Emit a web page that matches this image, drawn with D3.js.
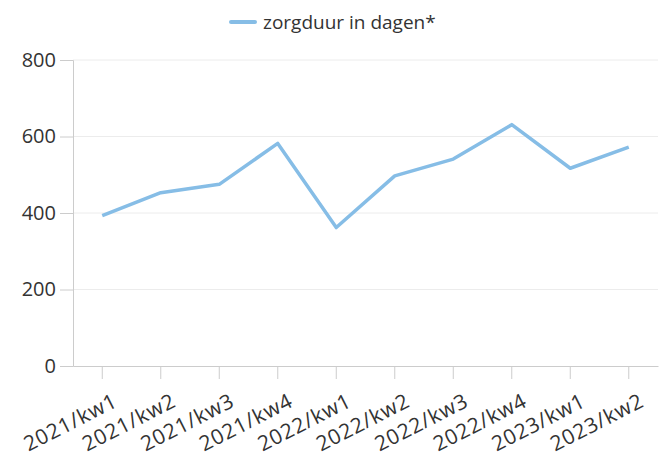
<!DOCTYPE html>
<html>
<head>
<meta charset="utf-8">
<script src="https://cdn.jsdelivr.net/npm/d3@7"></script>
<style>
  body { margin: 0; background: #fff; }
  svg text { font-family: "Open Sans", sans-serif; fill: #333; }
</style>
</head>
<body>
<svg id="chart" width="661" height="456"></svg>
<script>
var categories = ["2021/kw1", "2021/kw2", "2021/kw3", "2021/kw4", "2022/kw1",
                  "2022/kw2", "2022/kw3", "2022/kw4", "2023/kw1", "2023/kw2"];
var zorgduur = [393, 453, 475, 582, 362, 497, 541, 631, 517, 572];
var yTicks = [0, 200, 400, 600, 800];
var seriesName = "zorgduur in dagen*";

var svg = d3.select("#chart"),
  margin = {top: 60, right: 3, bottom: 90, left: 73},
  width = +svg.attr("width") - margin.left - margin.right,
  height = +svg.attr("height") - margin.top - margin.bottom,
  g = svg.append("g").attr("transform", "translate(" + margin.left + "," + margin.top + ")");

var x = d3.scaleBand()
  .domain(categories)
  .range([0, width])
  .padding(0);

var y = d3.scaleLinear()
  .domain([0, 800])
  .range([height, 0]);

// gridlines
g.append("g")
  .selectAll("line")
  .data(yTicks.slice(1))
  .enter().append("line")
    .attr("x1", 0)
    .attr("x2", width)
    .attr("y1", function(d) { return y(d); })
    .attr("y2", function(d) { return y(d); })
    .attr("stroke", "#ececec")
    .attr("stroke-width", 1);

// y axis
var yAxis = g.append("g")
  .call(d3.axisLeft(y).tickValues(yTicks).tickSize(13).tickPadding(4));
yAxis.select(".domain").attr("stroke", "#ccc");
yAxis.selectAll(".tick line").attr("stroke", "#ccc");
yAxis.selectAll(".tick text").style("font-size", "20px").attr("fill", "#333");

// x axis
var xAxis = g.append("g")
  .attr("transform", "translate(0," + height + ")")
  .call(d3.axisBottom(x).tickSize(13).tickSizeOuter(0));
xAxis.select(".domain").attr("stroke", "#ccc");
xAxis.selectAll(".tick line").attr("stroke", "#ccc");
xAxis.selectAll(".tick text")
  .style("font-size", "21px")
  .style("letter-spacing", "0.8px")
  .attr("fill", "#333")
  .attr("text-anchor", "end")
  .attr("dy", "0.35em")
  .attr("transform", "translate(6,19) rotate(-27)");

// line
var line = d3.line()
  .x(function(d, i) { return x(categories[i]) + x.bandwidth() / 2; })
  .y(function(d) { return y(d); });

g.append("path")
  .datum(zorgduur)
  .attr("fill", "none")
  .attr("stroke", "#86bde6")
  .attr("stroke-width", 3.5)
  .attr("stroke-linejoin", "round")
  .attr("d", line);

// legend
var legend = svg.append("g").attr("transform", "translate(231,22)");
legend.append("line")
  .attr("x1", 0).attr("x2", 24)
  .attr("stroke", "#86bde6")
  .attr("stroke-width", 4)
  .attr("stroke-linecap", "round");
legend.append("text")
  .attr("x", 32)
  .attr("dy", "0.35em")
  .style("font-size", "19px")
  .text(seriesName);
</script>
</body>
</html>
